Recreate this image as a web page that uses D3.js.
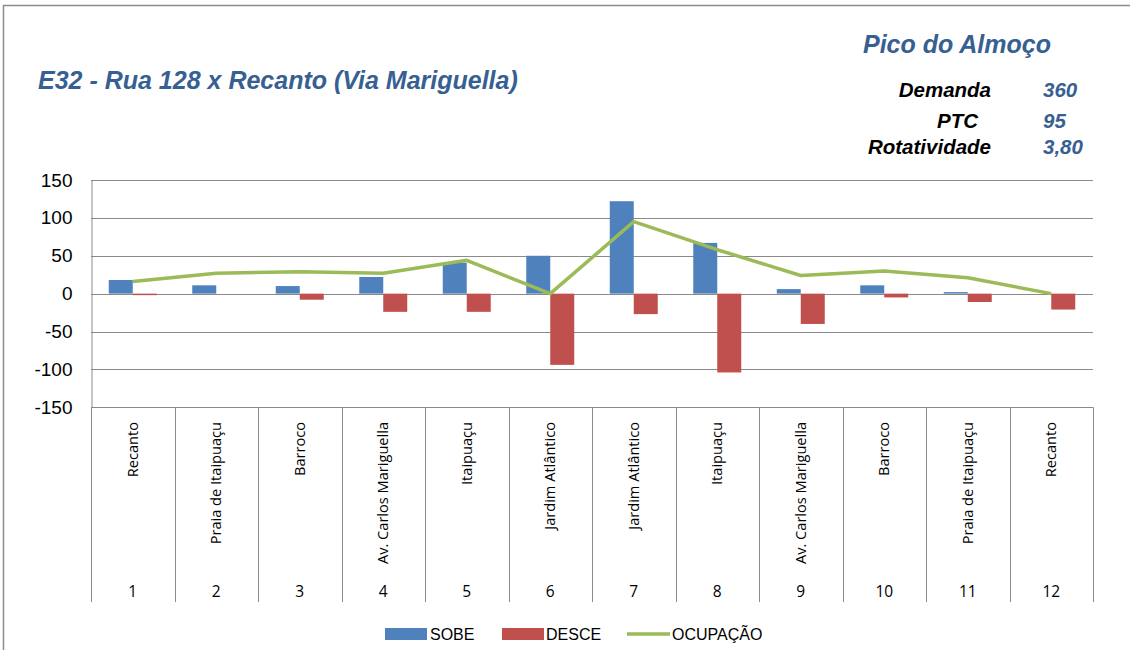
<!DOCTYPE html>
<html><head><meta charset="utf-8">
<script src="https://cdn.jsdelivr.net/npm/d3@7"></script>
<style>body{margin:0;background:#fff}svg{display:block}</style>
</head><body>
<script>
const stops = ["Recanto","Praia de Itaipuaçu","Barroco","Av. Carlos Mariguella","Itaipuaçu","Jardim Atlântico","Jardim Atlântico","Itaipuaçu","Av. Carlos Mariguella","Barroco","Praia de Itaipuaçu","Recanto"];
const stopNums = ["1","2","3","4","5","6","7","8","9","10","11","12"];
const sobe = [18,11,10,22,41,50,122,67,6,11,2,0];
const desce = [2,0,8,24,24,94,27,104,40,5,11,21];
const ocupacao = [16,27,29,27,44,0,95,58,24,30,21,0];
const yTicks = [150,100,50,0,-50,-100,-150];
const seriesNames = ["SOBE","DESCE","OCUPAÇÃO"];
const colors = ["#4F81BD","#C0504D","#9BBB59"];
const title = "E32 - Rua 128 x Recanto (Via Mariguella)";
const peak = "Pico do Almoço";
const statLabels = ["Demanda","PTC","Rotatividade"];
const statValues = ["360","95","3,80"];

const W=1130,H=650;
const svg=d3.select("body").append("svg").attr("width",W).attr("height",H);
svg.append("path").attr("d","M3.5,650 L3.5,5.5 L1130,5.5").attr("fill","none").attr("stroke","#8c8c8c").attr("stroke-width",1.5);

const L=91,R=1093,T=180,B=407.3;
const x=d3.scaleBand().domain(d3.range(stops.length)).range([L,R]).paddingInner(0).paddingOuter(0);
const inner=d3.scaleBand().domain([0,1]).range([0,x.bandwidth()]).paddingInner(0).paddingOuter(0.74);
const y=d3.scaleLinear().domain([-150,150]).range([B,T]);

svg.append("g").selectAll("line").data(yTicks).join("line")
  .attr("x1",L).attr("x2",R).attr("y1",d=>Math.round(y(d))+0.5).attr("y2",d=>Math.round(y(d))+0.5)
  .attr("stroke","#8a8a8a").attr("stroke-width",1);
const yAxis=d3.axisLeft(y).tickValues(yTicks).tickSize(0).tickPadding(19).tickFormat(d=>String(d));
const ga=svg.append("g").attr("transform",`translate(${L+0.5},0)`).call(yAxis);
ga.select(".domain").attr("stroke","#8a8a8a");
ga.selectAll("text").attr("font-family","'Liberation Sans', Arial, sans-serif").attr("font-size",19).attr("fill","#000");

svg.append("g").selectAll("rect").data(sobe).join("rect")
  .attr("x",(d,i)=>x(i)+inner(0)).attr("width",inner.bandwidth())
  .attr("y",d=>y(Math.max(d,0))).attr("height",d=>Math.abs(y(d)-y(0)))
  .attr("fill",colors[0]);
svg.append("g").selectAll("rect").data(desce).join("rect")
  .attr("x",(d,i)=>x(i)+inner(1)).attr("width",inner.bandwidth())
  .attr("y",y(0)).attr("height",d=>Math.abs(y(-d)-y(0)))
  .attr("fill",colors[1]);

const line=d3.line().x((d,i)=>x(i)+x.bandwidth()/2).y(d=>y(d));
svg.append("path").datum(ocupacao).attr("d",line).attr("fill","none")
  .attr("stroke",colors[2]).attr("stroke-width",3.5).attr("stroke-linejoin","round");

svg.append("g").selectAll("line").data(d3.range(stops.length+1)).join("line")
  .attr("x1",i=>Math.round(L+i*x.bandwidth())+0.5).attr("x2",i=>Math.round(L+i*x.bandwidth())+0.5)
  .attr("y1",B).attr("y2",602).attr("stroke","#8a8a8a");
svg.append("g").selectAll("text").data(stops).join("text")
  .attr("transform",(d,i)=>`translate(${x(i)+x.bandwidth()/2+5},422) rotate(-90)`)
  .attr("text-anchor","end").attr("font-family","'Open Sans', sans-serif").attr("font-size",14.6)
  .attr("fill","#000").text(d=>d);
svg.append("g").selectAll("text").data(stopNums).join("text")
  .attr("x",(d,i)=>x(i)+x.bandwidth()/2).attr("y",597)
  .attr("text-anchor","middle").attr("font-family","'Open Sans',sans-serif").attr("font-size",15.5)
  .attr("fill","#000").text(d=>d);

svg.append("text").attr("x",38).attr("y",89).attr("font-family","'Liberation Sans',Arial,sans-serif")
  .attr("font-weight","bold").attr("font-style","italic").attr("font-size",25).attr("fill","#376092").text(title);
svg.append("text").attr("x",863).attr("y",53).attr("font-family","'Liberation Sans',Arial,sans-serif")
  .attr("font-weight","bold").attr("font-style","italic").attr("font-size",25).attr("fill","#376092").text(peak);
const statY=[97,128,154], statX=[991,978,991];
svg.append("g").selectAll("text").data(statLabels).join("text")
  .attr("x",(d,i)=>statX[i]).attr("y",(d,i)=>statY[i]).attr("text-anchor","end")
  .attr("font-family","'Liberation Sans',Arial,sans-serif").attr("font-weight","bold").attr("font-style","italic")
  .attr("font-size",20.5).attr("fill","#000").text(d=>d);
svg.append("g").selectAll("text").data(statValues).join("text")
  .attr("x",1043).attr("y",(d,i)=>statY[i])
  .attr("font-family","'Liberation Sans',Arial,sans-serif").attr("font-weight","bold").attr("font-style","italic")
  .attr("font-size",20.5).attr("fill","#376092").text(d=>d);

const lg=svg.append("g").attr("font-family","'Liberation Sans Narrow','Liberation Sans',sans-serif").attr("font-size",16);
const lx=[385,502,627], tx=[430,546,672];
lg.append("rect").attr("x",lx[0]).attr("y",628).attr("width",42).attr("height",12).attr("fill",colors[0]);
lg.append("rect").attr("x",lx[1]).attr("y",628).attr("width",42).attr("height",12).attr("fill",colors[1]);
lg.append("line").attr("x1",lx[2]).attr("x2",lx[2]+43).attr("y1",634).attr("y2",634).attr("stroke",colors[2]).attr("stroke-width",3.5);
lg.selectAll("text.l").data(seriesNames).join("text").attr("class","l")
  .attr("x",(d,i)=>tx[i]).attr("y",640).attr("fill","#000").text(d=>d);
</script>
</body></html>
